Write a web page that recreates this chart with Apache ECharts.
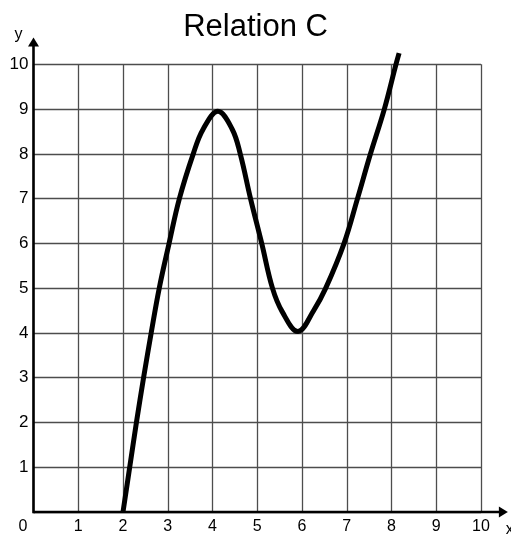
<!DOCTYPE html>
<html>
<head>
<meta charset="utf-8">
<script src="https://cdn.jsdelivr.net/npm/echarts@6/dist/echarts.min.js"></script>
<style>
html,body{margin:0;padding:0;background:#fff;}
#main{width:511px;height:535px;}
</style>
</head>
<body>
<div id="main"></div>
<script>
// Data
const titleText = 'Relation C';
const xTicks = [0,1,2,3,4,5,6,7,8,9,10];
const yTicks = [0,1,2,3,4,5,6,7,8,9,10];
const curveX = [2, 2.15, 2.3, 2.46, 2.63, 2.81, 3.03, 3.26, 3.57, 3.79, 4.12, 4.44, 4.62, 4.85, 5.1, 5.34, 5.56, 5.91, 6.26, 6.53, 6.94, 7.24, 7.53, 7.84, 8.1, 8.17];
const curveY = [0, 1, 2, 3, 4, 5, 6, 7, 8, 8.55, 8.95, 8.55, 8, 7, 6, 5, 4.47, 4.03, 4.5, 5, 6, 7, 8, 9, 10, 10.25];
const arrowEnd = 10.6;

const chart = echarts.init(document.getElementById('main'), null, {renderer:'canvas'});
const font = 'Liberation Sans, Arial, sans-serif';
const curveData = curveX.map((x,i)=>[x, curveY[i]]);

chart.setOption({
  animation:false,
  backgroundColor:'#fff',
  title:{text:titleText, left:'center', top:12, padding:0,
    textStyle:{fontFamily:font, fontSize:31, fontWeight:'normal', color:'#000'}},
  grid:{left:33.5, right:30, top:64.3, bottom:23, containLabel:false},
  xAxis:{type:'value', min:xTicks[0], max:xTicks[xTicks.length-1], interval:1,
    axisLine:{show:false}, axisTick:{show:false},
    splitLine:{show:true, lineStyle:{color:'#4d4d4d', width:1.3}},
    axisLabel:{fontFamily:font, fontSize:16, color:'#000', margin:7,
      formatter:v=> v===0 ? '{z|0}' : String(v),
      rich:{z:{fontFamily:font, fontSize:16, color:'#000', padding:[0,21,0,0]}}}},
  yAxis:{type:'value', min:yTicks[0], max:yTicks[yTicks.length-1], interval:1,
    axisLine:{show:false}, axisTick:{show:false},
    splitLine:{show:true, lineStyle:{color:'#4d4d4d', width:1.3}},
    axisLabel:{fontFamily:font, fontSize:17, color:'#000', margin:5,
      formatter:v=> v===0 ? '' : String(v)}},
  series:[{
    type:'custom', data:curveData, clip:false,
    encode:{x:0, y:1},
    renderItem:function(params, api){
      if (params.dataIndex !== 0) return null;
      const pts = curveData.map(d => api.coord(d));
      return {type:'polyline', shape:{points:pts, smooth:0.38},
        style:{stroke:'#000', lineWidth:5, fill:null, lineJoin:'round', lineCap:'butt'}};
    }
  }]
});

const o = chart.convertToPixel({gridIndex:0}, [0,0]);
const xe = chart.convertToPixel({gridIndex:0}, [arrowEnd,0]);
const ye = chart.convertToPixel({gridIndex:0}, [0,arrowEnd]);
const head = 9, half = 5.5;
chart.setOption({graphic:[
  {type:'line', shape:{x1:o[0], y1:o[1], x2:xe[0]-head+1, y2:o[1]}, style:{stroke:'#000', lineWidth:2.6}, z:100},
  {type:'line', shape:{x1:o[0], y1:o[1]+1.3, x2:o[0], y2:ye[1]+head-1}, style:{stroke:'#000', lineWidth:2.6}, z:100},
  {type:'polygon', shape:{points:[[xe[0],o[1]],[xe[0]-head,o[1]-half],[xe[0]-head,o[1]+half]]}, style:{fill:'#000'}, z:100},
  {type:'polygon', shape:{points:[[o[0],ye[1]],[o[0]-half,ye[1]+head],[o[0]+half,ye[1]+head]]}, style:{fill:'#000'}, z:100},
  {type:'text', x:o[0]-15, y:ye[1]-3, style:{text:'y', font:'16px '+font, fill:'#000', textAlign:'center', textVerticalAlign:'middle'}, z:100},
  {type:'text', x:xe[0]+2, y:o[1]+18, style:{text:'x', font:'16px '+font, fill:'#000', textAlign:'center', textVerticalAlign:'middle'}, z:100}
]});
</script>
</body>
</html>
